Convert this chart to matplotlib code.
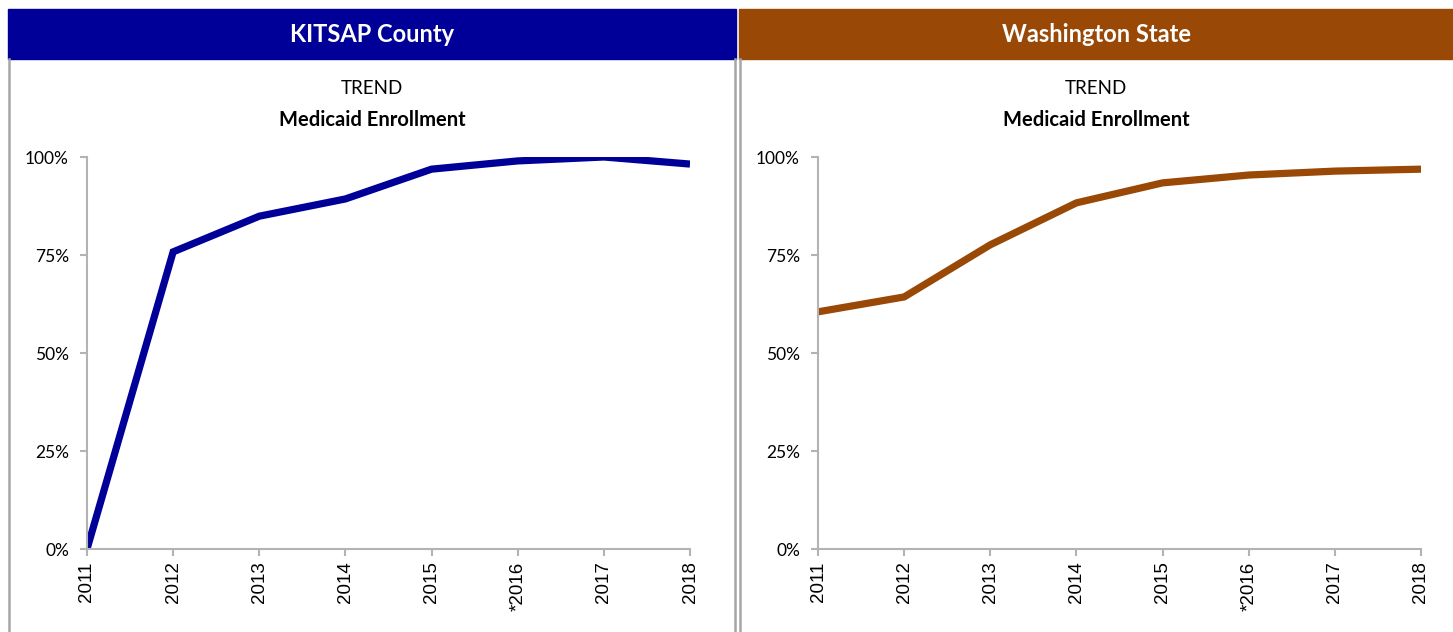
import numpy as np
import matplotlib.pyplot as plt
from matplotlib.patches import Rectangle
from matplotlib.lines import Line2D
from matplotlib.ticker import FuncFormatter

years = ['2011', '2012', '2013', '2014', '2015', '*2016', '2017', '2018']
kitsap = [0.0, 0.758, 0.849, 0.893, 0.969, 0.990, 1.0, 0.982]
washington = [0.605, 0.643, 0.776, 0.883, 0.934, 0.954, 0.964, 0.969]
yticks = [0, 0.25, 0.5, 0.75, 1.0]

W, H = 1453, 632
fig = plt.figure(figsize=(W / 100, H / 100), dpi=100)

def px(x0, y0, x1, y1):
    # pixel box (top-left origin) -> figure fraction rect
    return [x0 / W, 1 - y1 / H, (x1 - x0) / W, (y1 - y0) / H]

panels = [
    ('KITSAP County', '#000099', kitsap, 8, 736, 87, 690),
    ('Washington State', '#994806', washington, 739, 1453, 818, 1421),
]

grey = '#b3b3b3'
for name, col, vals, left, right, ax0, ax1 in panels:
    fig.patches.append(Rectangle((left / W, 1 - 59 / H), (right - left) / W, 50 / H,
                                 transform=fig.transFigure, color=col, zorder=0))
    fig.text((left + right) / 2 / W, 1 - 35 / H, name, color='white', fontsize=17,
             fontweight='bold', family='Lato', ha='center', va='center')
    for xx in (left + 1, right - 1):
        if xx < W - 2:
            fig.lines.append(Line2D([xx / W, xx / W], [0, 1 - 59 / H], transform=fig.transFigure,
                                    color='#a6a6a6', lw=1.8))
    fig.text((left + right) / 2 / W, 1 - 88 / H, 'TREND', fontsize=13.5, family='Lato',
             ha='center', va='center')
    fig.text((left + right) / 2 / W, 1 - 120 / H, 'Medicaid Enrollment', fontsize=14.5,
             fontweight='bold', family='Lato', ha='center', va='center')

    ax = fig.add_axes(px(ax0, 157, ax1, 549))
    x = np.arange(len(years))
    ax.plot(x, vals, color=col, lw=5.2, solid_capstyle='butt', solid_joinstyle='miter')
    ax.set_xlim(0, len(years) - 1)
    ax.set_ylim(0, 1)
    ax.set_xticks(x)
    ax.set_xticklabels(years, rotation=90, fontsize=13.5, family='Liberation Sans')
    ax.set_yticks(yticks)
    ax.yaxis.set_major_formatter(FuncFormatter(lambda v, p: f'{v * 100:.0f}%'))
    for lab in ax.get_yticklabels():
        lab.set_family('Lato')
        lab.set_fontsize(12.5)
    ax.tick_params(axis='both', color=grey, width=1.5, length=5, pad=4)
    ax.tick_params(axis='y', pad=8)
    for s in ('top', 'right'):
        ax.spines[s].set_visible(False)
    for s in ('left', 'bottom'):
        ax.spines[s].set_color(grey)
        ax.spines[s].set_linewidth(1.5)
    ax.patch.set_alpha(0)

fig.savefig('out.png', dpi=100)
